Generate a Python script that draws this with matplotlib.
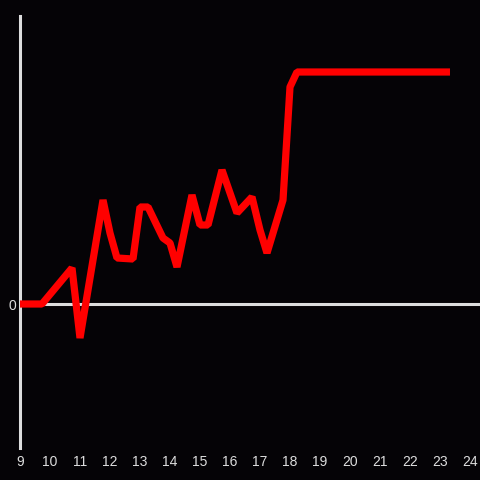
import matplotlib
matplotlib.use("Agg")
import matplotlib.pyplot as plt

plt.rcParams['font.family'] = ['Liberation Sans', 'DejaVu Sans']

# hours of day (decimal) and values
hours = [9.0, 9.733, 10.733, 11.0, 11.767, 12.0, 12.233, 12.767, 13.0, 13.267,
         13.767, 14.0, 14.233, 14.733, 15.0, 15.267, 15.733, 16.233, 16.733,
         17.0, 17.233, 17.767, 18.0, 18.233, 23.333]
values = [0, 0, 36, -34, 104, 71, 46, 45, 97, 97,
          66, 61, 37, 109, 79, 79, 134, 91, 107,
          74, 51, 104, 217, 232, 232]
xticks = list(range(9, 25))
yticks = [0]

bg = "#050306"
fg = "#dddddd"

fig = plt.figure(figsize=(4.8, 4.8), dpi=100, facecolor=bg)
ax = fig.add_axes([20/480, 32/480, 460/480, 432/480], facecolor=bg)
ax.set_xlim(9, 9 + 460/30)
ax.set_ylim(-144, 288)

for s in ["top", "right", "bottom"]:
    ax.spines[s].set_visible(False)
ax.spines["left"].set_color(fg)
ax.spines["left"].set_linewidth(2.2)
ax.spines["left"].set_zorder(1)

ax.axhline(0, color=fg, linewidth=2.2, zorder=1)

ax.plot(hours, values, color="#ff0000", linewidth=5.2,
        solid_joinstyle="bevel", solid_capstyle="butt", zorder=3)

ax.set_xticks(xticks)
ax.set_xticklabels([str(t) for t in xticks])
ax.set_yticks(yticks)
ax.set_yticklabels(["0"])
ax.tick_params(axis="both", length=0, colors=fg, labelsize=10)
ax.tick_params(axis="x", pad=5)
ax.tick_params(axis="y", pad=3)

fig.savefig("out.png", dpi=100, facecolor=bg)
